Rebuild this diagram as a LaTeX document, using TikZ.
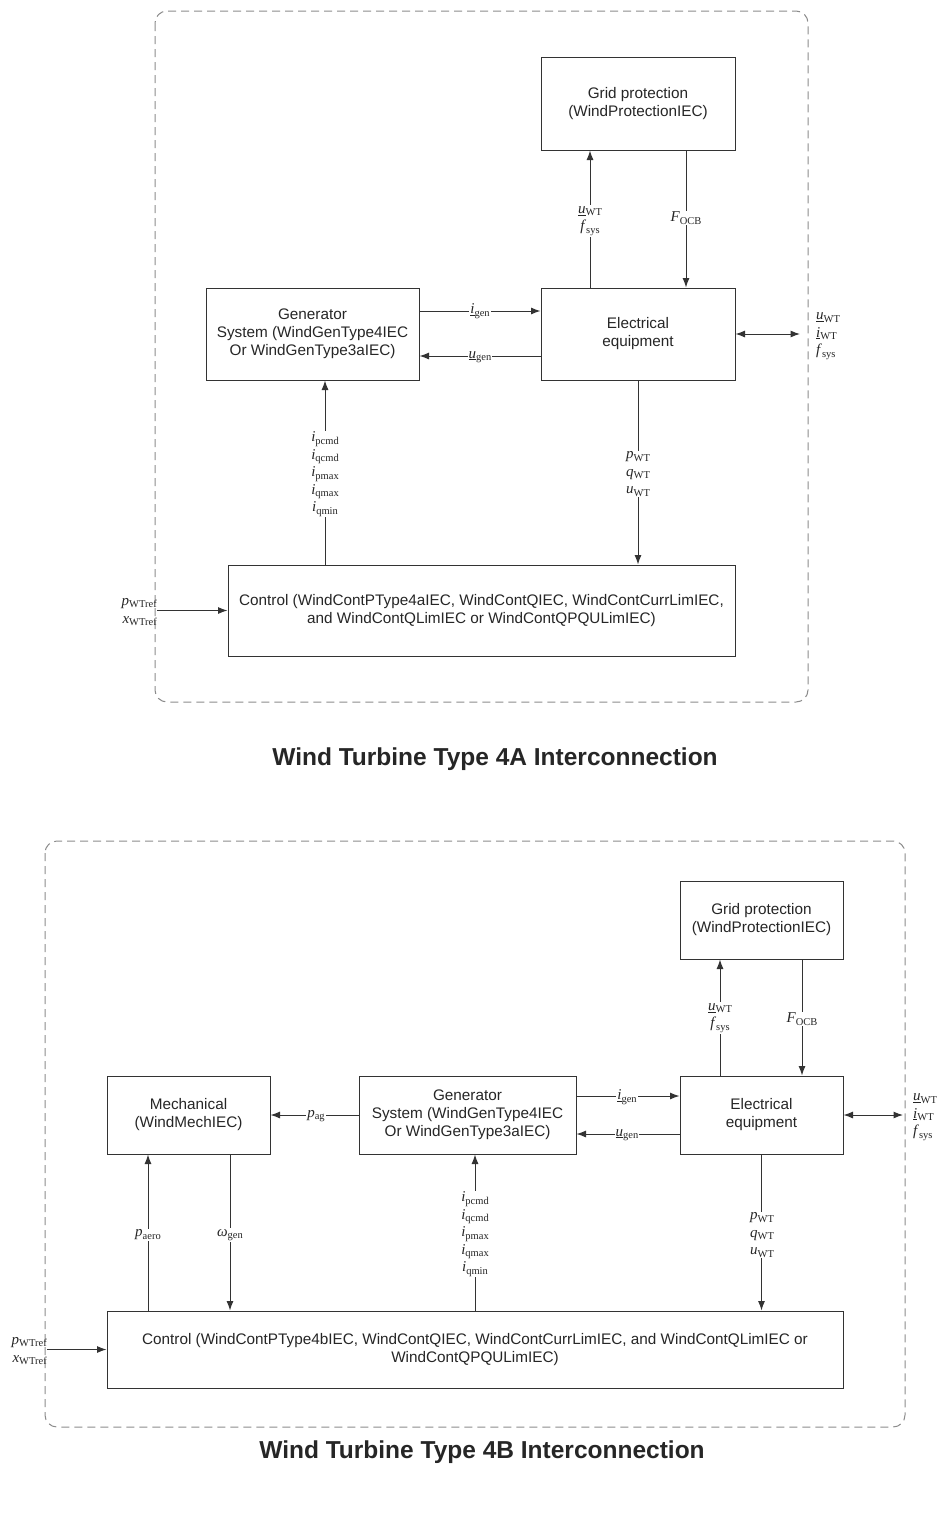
\documentclass[tikz,border=0pt]{standalone}
\usepackage{fontspec}
\setmainfont{Liberation Sans}
\newfontfamily\tms{Liberation Serif}
\usetikzlibrary{arrows.meta}

\definecolor{linec}{HTML}{333333}
\definecolor{txtc}{HTML}{262626}
\definecolor{framec}{HTML}{8C8C8C}

% signal names: italic symbol with an upright subscript
\newcommand\sigsym[2]{\textit{#1}\raisebox{-0.35ex}{\fontsize{10.5}{10.5}\selectfont #2}}
\newcommand\sigund[2]{\underline{\textit{#1}}\raisebox{-0.35ex}{\fontsize{10.5}{10.5}\selectfont #2}}

\begin{document}
\begin{tikzpicture}[x=1pt,y=-1pt,
  blk/.style={draw=linec, line width=1pt, fill=white, text=txtc, align=center,
    font=\fontsize{15.3}{18}\selectfont, inner sep=0pt},
  wire/.style={draw=linec, line width=1pt},
  arr/.style={wire, -{Latex[length=9.5pt,width=7pt]}},
  darr/.style={wire, {Latex[length=9.5pt,width=7pt]}-{Latex[length=9.5pt,width=7pt]}},
  frame/.style={draw=framec, dash pattern=on 8pt off 5pt, line width=1pt, rounded corners=12pt},
  lbl/.style={fill=white, inner sep=1pt, align=center, text=txtc,
    font=\tms\fontsize{15}{17.5}\selectfont},
  ttl/.style={font=\bfseries\fontsize{24.5}{28}\selectfont, text=txtc}
]
\useasboundingbox[fill=white] (0,0) rectangle (948,1523);

%% ---------------- Type 4A ----------------
\draw[frame] (155,11) rectangle (808,702);

\node[blk, minimum width=194pt, minimum height=93pt] (gpA) at (638,103.5)
  {Grid protection\\(WindProtectionIEC)};
\node[blk, minimum width=194pt, minimum height=92pt] (eeA) at (638,334)
  {Electrical\\equipment};
\node[blk, minimum width=213pt, minimum height=92pt] (genA) at (312.5,334)
  {Generator\\System (WindGenType4IEC\\Or WindGenType3aIEC)};
\node[blk, minimum width=507pt, minimum height=91pt] (ctlA) at (481.5,610.5)
  {Control (WindContPType4aIEC, WindContQIEC, WindContCurrLimIEC,\\and WindContQLimIEC or WindContQPQULimIEC)};

\coordinate (xiA) at (325,0);
\coordinate (outA) at (800,334);
\coordinate (inA) at (157,610.5);

\draw[arr] ([xshift=-48pt]eeA.north) -- ([xshift=-48pt]gpA.south);
\draw[arr] ([xshift=48pt]gpA.south) -- ([xshift=48pt]eeA.north);
\draw[arr] ([yshift=23pt]genA.east) -- ([yshift=23pt]eeA.west);
\draw[arr] ([yshift=-22pt]eeA.west) -- ([yshift=-22pt]genA.east);
\draw[darr] (eeA.east) -- (outA);
\draw[arr] (ctlA.north -| xiA) -- (genA.south -| xiA);
\draw[arr] (eeA.south) -- (eeA.south |- ctlA.north);
\draw[arr] (inA) -- (ctlA.west);

\node[lbl] at (590,221) {\sigund{u}{WT}\\\sigsym{f}{sys}};
\node[lbl] at (686,218) {\sigsym{F}{OCB}};
\node[lbl] at (480,311) {\sigund{i}{gen}};
\node[lbl] at (480,357) {\sigund{u}{gen}};
\node[lbl, fill=none, align=left, anchor=west] at (815,336)
  {\sigund{u}{WT}\\\sigund{i}{WT}\\\sigsym{f}{sys}};
\node[lbl] at (325,474)
  {\sigsym{i}{pcmd}\\\sigsym{i}{qcmd}\\\sigsym{i}{pmax}\\\sigsym{i}{qmax}\\\sigsym{i}{qmin}};
\node[lbl] at (638,474) {\sigsym{p}{WT}\\\sigsym{q}{WT}\\\sigsym{u}{WT}};
\node[lbl, fill=none, align=right, anchor=east] at (158,612)
  {\sigsym{p}{WTref}\\\sigsym{x}{WTref}};

\node[ttl] at (495,759) {Wind Turbine Type 4A Interconnection};

%% ---------------- Type 4B ----------------
\draw[frame] (45,841) rectangle (905,1427);

\node[blk, minimum width=163pt, minimum height=78pt] (gpB) at (761.5,920)
  {Grid protection\\(WindProtectionIEC)};
\node[blk, minimum width=163pt, minimum height=78pt] (eeB) at (761.5,1115)
  {Electrical\\equipment};
\node[blk, minimum width=217pt, minimum height=78pt] (genB) at (467.5,1115)
  {Generator\\System (WindGenType4IEC\\Or WindGenType3aIEC)};
\node[blk, minimum width=163pt, minimum height=78pt] (mechB) at (188.5,1115)
  {Mechanical\\(WindMechIEC)};
\node[blk, minimum width=736pt, minimum height=77pt] (ctlB) at (475,1349.5)
  {Control (WindContPType4bIEC, WindContQIEC, WindContCurrLimIEC, and WindContQLimIEC or\\WindContQPQULimIEC)};

\coordinate (xpaB) at (148,0);
\coordinate (xwgB) at (230,0);
\coordinate (outB) at (903,1115);
\coordinate (inB) at (47,1349.5);

\draw[arr] ([xshift=-41.5pt]eeB.north) -- ([xshift=-41.5pt]gpB.south);
\draw[arr] ([xshift=40.5pt]gpB.south) -- ([xshift=40.5pt]eeB.north);
\draw[arr] ([yshift=19pt]genB.east) -- ([yshift=19pt]eeB.west);
\draw[arr] ([yshift=-19pt]eeB.west) -- ([yshift=-19pt]genB.east);
\draw[darr] (eeB.east) -- (outB);
\draw[arr] (genB.west) -- (mechB.east);
\draw[arr] (ctlB.north -| xpaB) -- (mechB.south -| xpaB);
\draw[arr] (mechB.south -| xwgB) -- (ctlB.north -| xwgB);
\draw[arr] (ctlB.north) -- (genB.south -| ctlB.north);
\draw[arr] (eeB.south) -- (eeB.south |- ctlB.north);
\draw[arr] (inB) -- (ctlB.west);

\node[lbl] at (720,1018) {\sigund{u}{WT}\\\sigsym{f}{sys}};
\node[lbl] at (802,1019) {\sigsym{F}{OCB}};
\node[lbl] at (627,1097) {\sigund{i}{gen}};
\node[lbl] at (627,1135) {\sigund{u}{gen}};
\node[lbl] at (316,1116) {\sigsym{p}{ag}};
\node[lbl] at (148,1235) {\sigsym{p}{aero}};
\node[lbl] at (230,1235) {\sigsym{ω}{gen}};
\node[lbl] at (475,1234)
  {\sigsym{i}{pcmd}\\\sigsym{i}{qcmd}\\\sigsym{i}{pmax}\\\sigsym{i}{qmax}\\\sigsym{i}{qmin}};
\node[lbl] at (762,1235) {\sigsym{p}{WT}\\\sigsym{q}{WT}\\\sigsym{u}{WT}};
\node[lbl, fill=none, align=left, anchor=west] at (912,1117)
  {\sigund{u}{WT}\\\sigund{i}{WT}\\\sigsym{f}{sys}};
\node[lbl, fill=none, align=right, anchor=east] at (48,1351)
  {\sigsym{p}{WTref}\\\sigsym{x}{WTref}};

\node[ttl] at (482,1452) {Wind Turbine Type 4B Interconnection};
\end{tikzpicture}
\end{document}
